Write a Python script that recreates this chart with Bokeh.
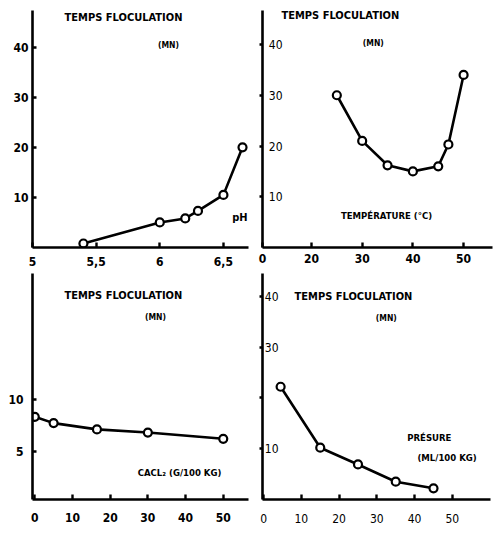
from bokeh.plotting import figure
from bokeh.layouts import column, row
from bokeh.models import Label, FixedTicker
from bokeh.embed import file_html
from bokeh.resources import INLINE

FONT = "DejaVu Sans Condensed"

# ---- data ----
ph_x = [5.4, 6.0, 6.2, 6.3, 6.5, 6.65]
ph_y = [0.8, 5.0, 5.8, 7.3, 10.5, 20.0]

temp_x = [25, 30, 35, 40, 45, 47, 50]
temp_y = [30.0, 21.0, 16.2, 15.0, 16.0, 20.3, 34.0]

cacl_x = [0, 5, 16.5, 30, 50]
cacl_y = [8.3, 7.7, 7.1, 6.8, 6.2]

pres_x = [4.5, 15, 25, 35, 45]
pres_y = [22.2, 10.2, 6.9, 3.5, 2.2]

ph_xticks = [5, 5.5, 6, 6.5]
ph_xlabels = {5: "5", 5.5: "5,5", 6: "6", 6.5: "6,5"}
ph_yticks = [10, 20, 30, 40]

temp_break = 10.34  # where the broken axis shows "0"
temp_xticks = [temp_break, 20, 30, 40, 50]
temp_xlabels = {temp_break: "0"}
temp_yticks = [10, 20, 30, 40]

cacl_xticks = [0, 10, 20, 30, 40, 50]
cacl_yticks = [5, 10]

pres_xticks = [0, 10, 20, 30, 40, 50]
pres_yticks = [10, 20, 30, 40]
pres_ylabels = {20: ""}

title_txt = "TEMPS FLOCULATION"
unit_txt = "(MN)"


def make_fig(w, h, xr, yr, bl, br, bt, bb):
    p = figure(width=w, height=h, x_range=xr, y_range=yr,
               min_border_left=bl, min_border_right=br,
               min_border_top=bt, min_border_bottom=bb,
               output_backend="svg", toolbar_location=None,
               background_fill_color="white", border_fill_color="white",
               outline_line_color=None)
    p.grid.visible = False
    for ax in (p.xaxis[0], p.yaxis[0]):
        ax.axis_line_width = 2.6
        ax.axis_line_color = "black"
        ax.major_tick_line_width = 2.4
        ax.major_tick_line_color = "black"
        ax.minor_tick_line_color = None
        ax.major_label_text_font = FONT
        ax.major_label_text_font_style = "bold"
        ax.major_label_text_font_size = "12px"
        ax.major_label_text_color = "black"
    p.xaxis.major_tick_in = 5
    p.xaxis.major_tick_out = 0
    return p


def curve(p, xs, ys):
    p.line(xs, ys, line_width=2.6, line_color="black")
    p.scatter(xs, ys, size=8, marker="circle", fill_color="white",
              line_color="black", line_width=2.2)


def txt(p, x, y, s, size="11px", bold=True, align="center"):
    p.add_layout(Label(x=x, y=y, text=s, text_font=FONT,
                       text_font_size=size,
                       text_font_style="bold" if bold else "normal",
                       text_align=align, text_baseline="middle",
                       text_color="black"))


# ---- panel 1 : pH ----
p1 = make_fig(250, 270, (5.0, 6.697), (0, 47.3), 32, 2, 8, 23)
p1.xaxis.ticker = FixedTicker(ticks=ph_xticks)
p1.xaxis.major_label_overrides = ph_xlabels
p1.xaxis.major_label_standoff = 9
p1.yaxis.ticker = FixedTicker(ticks=ph_yticks)
p1.yaxis.major_tick_in = 4
p1.yaxis.major_tick_out = 0
p1.yaxis.major_label_standoff = 4
curve(p1, ph_x, ph_y)
txt(p1, 5.715, 45.9, title_txt)
txt(p1, 6.068, 40.4, unit_txt, size="8.5px")
txt(p1, 6.69, 5.9, "pH", size="11px", align="right")

# ---- panel 2 : temperature ----
p2 = make_fig(250, 270, (temp_break, 55.7), (0, 46.7), 12, 8, 10, 23)
p2.xaxis.ticker = FixedTicker(ticks=temp_xticks)
p2.xaxis.major_label_overrides = temp_xlabels
p2.xaxis.major_label_standoff = 6
p2.yaxis.ticker = FixedTicker(ticks=temp_yticks)
p2.yaxis.major_tick_in = 0
p2.yaxis.major_tick_out = 3
p2.yaxis.major_label_standoff = -23
p2.yaxis.major_label_text_font_style = "normal"
curve(p2, temp_x, temp_y)
txt(p2, 25.7, 45.8, title_txt)
txt(p2, 32.2, 40.2, unit_txt, size="8.5px")
txt(p2, 34.8, 6.3, "TEMPÉRATURE (°C)", size="9.5px")

# ---- panel 3 : CaCl2 ----
p3 = make_fig(250, 268, (-0.6, 56.7), (0.4, 22.0), 32, 2, 3, 38)
p3.xaxis.ticker = FixedTicker(ticks=cacl_xticks)
p3.xaxis.major_label_standoff = 13
p3.yaxis.ticker = FixedTicker(ticks=cacl_yticks)
p3.yaxis.major_tick_in = 4
p3.yaxis.major_tick_out = 0
p3.yaxis.major_label_standoff = 9
curve(p3, cacl_x, cacl_y)
txt(p3, 23.5, 19.9, title_txt)
txt(p3, 32.0, 17.8, unit_txt, size="8.5px")
txt(p3, 38.4, 2.96, "CACL₂ (G/100 KG)", size="9.5px")

# ---- panel 4 : présure ----
p4 = make_fig(250, 268, (-0.3, 60.1), (0, 44.5), 12, 10, 3, 39)
p4.xaxis.ticker = FixedTicker(ticks=pres_xticks)
p4.xaxis.major_label_standoff = 14
p4.xaxis.major_label_text_font_style = "normal"
p4.yaxis.ticker = FixedTicker(ticks=pres_yticks)
p4.yaxis.major_label_overrides = pres_ylabels
p4.yaxis.major_tick_in = 0
p4.yaxis.major_tick_out = 3
p4.yaxis.major_label_standoff = -19
p4.yaxis.major_label_text_font_style = "normal"
curve(p4, pres_x, pres_y)
txt(p4, 23.8, 40.0, title_txt)
txt(p4, 32.5, 35.7, unit_txt, size="8.5px")
txt(p4, 43.9, 12.2, "PRÉSURE", size="9.5px")
txt(p4, 48.6, 8.2, "(ML/100 KG)", size="9.5px")

layout = column(row(p1, p2, spacing=0), row(p3, p4, spacing=0), spacing=0)

open("out.html", "w").write(file_html(layout, INLINE))
